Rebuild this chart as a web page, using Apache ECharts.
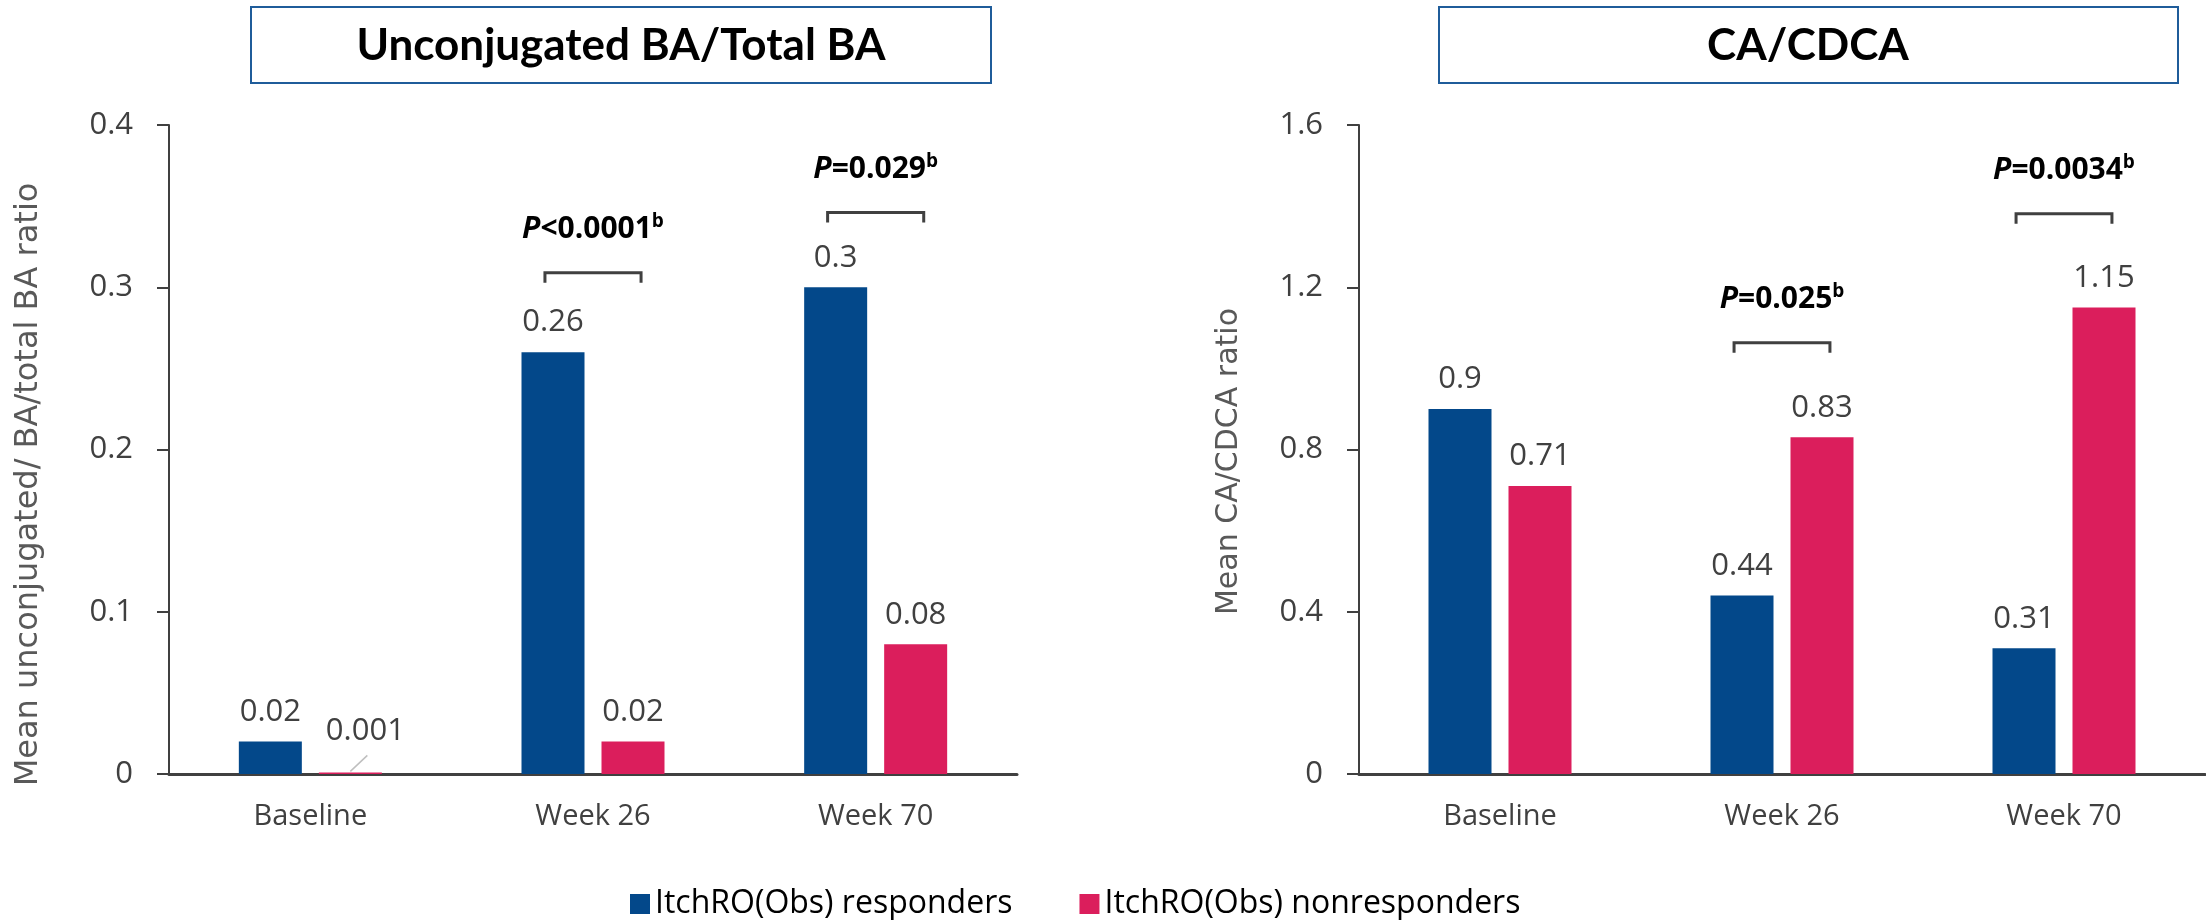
<!DOCTYPE html>
<html>
<head>
<meta charset="utf-8">
<script src="https://cdn.jsdelivr.net/npm/echarts@6/dist/echarts.min.js"></script>
<style>
html,body{margin:0;padding:0;background:#fff;}
#chart{width:2206px;height:920px;}
</style>
</head>
<body>
<div id="chart"></div>
<script>
// ---------- data ----------
const categories = ['Baseline', 'Week 26', 'Week 70'];
const seriesNames = ['ItchRO(Obs) responders', 'ItchRO(Obs) nonresponders'];

const unconjResponders    = [0.02, 0.26, 0.3];
const unconjNonresponders = [0.001, 0.02, 0.08];
const unconjAxis = { min: 0, max: 0.4, interval: 0.1 };
const unconjPCats   = [1, 2];
const unconjPLabels = ['<0.0001', '=0.029'];
const unconjPLevels = [0.309, 0.346];

const caResponders    = [0.9, 0.44, 0.31];
const caNonresponders = [0.71, 0.83, 1.15];
const caAxis = { min: 0, max: 1.6, interval: 0.4 };
const caPCats   = [1, 2];
const caPLabels = ['=0.025', '=0.0034'];
const caPLevels = [1.063, 1.381];

const titles = ['Unconjugated BA/Total BA', 'CA/CDCA'];
const yNames = ['Mean unconjugated/ BA/total BA ratio', 'Mean CA/CDCA ratio'];

// ---------- styles ----------
const BLUE = '#03488A';
const PINK = '#DB1E5C';
const AXIS = '#404040';
const FONT = '"Open Sans", "Noto Sans", sans-serif';
const TITLEFONT = 'Lato, "Open Sans", sans-serif';
const BAR_W = 63;
const BAR_GAP_PX = 17;

const chart = echarts.init(document.getElementById('chart'), null, { renderer: 'canvas' });

function yAxis(gi, ax, name, gap, shift, size) {
  return {
    type: 'value', gridIndex: gi, min: ax.min, max: ax.max, interval: ax.interval,
    name: name, nameLocation: 'middle', nameGap: gap, nameRotate: 90,
    nameTextStyle: { fontFamily: '"DejaVu Sans", Verdana, sans-serif', fontSize: size, color: '#595959',
                     padding: [0, shift, 0, 0] },
    axisLine: { show: true, lineStyle: { color: AXIS, width: 2 } },
    axisTick: { show: true, length: 12, lineStyle: { color: AXIS, width: 2 } },
    axisLabel: { margin: 36, fontFamily: FONT, fontSize: 31, color: AXIS },
    splitLine: { show: false }
  };
}
function xAxis(gi) {
  return {
    type: 'category', gridIndex: gi, data: categories,
    axisLine: { show: true, lineStyle: { color: AXIS, width: 3 } },
    axisTick: { show: false },
    axisLabel: { margin: 28, fontFamily: FONT, fontSize: 29, color: AXIS }
  };
}
function barSeries(name, gi, values, color, movedIndex) {
  return {
    type: 'bar', name: name, xAxisIndex: gi, yAxisIndex: gi,
    barWidth: BAR_W, barGap: (BAR_GAP_PX / BAR_W * 100) + '%',
    itemStyle: { color: color },
    data: values,
    label: { show: true, position: 'top', distance: 14, fontFamily: FONT, fontSize: 31, color: AXIS },
    labelLayout: function (p) {
      if (p.dataIndex === movedIndex) return { dx: 15, dy: -12 };
      return {};
    },
    z: 2
  };
}
// leader line for the displaced tiny-value label (second bar of the group)
function leaderSeries(gi, values, index) {
  return {
    type: 'custom', xAxisIndex: gi, yAxisIndex: gi, silent: true, z: 4,
    data: [[index, values[index]]],
    renderItem: function (params, api) {
      const c = api.coord([api.value(0), api.value(1)]);
      const x0 = c[0] + (BAR_W + BAR_GAP_PX) / 2;
      return { type: 'line', shape: { x1: x0, y1: c[1] - 1, x2: x0 + 17, y2: c[1] - 17 },
               style: { stroke: '#bfbfbf', lineWidth: 1.5 } };
    }
  };
}
function pSeries(gi, cats, labels, levels) {
  return {
    type: 'custom', xAxisIndex: gi, yAxisIndex: gi, silent: true, z: 5,
    data: cats.map((c, i) => [c, levels[i]]),
    renderItem: function (params, api) {
      const c = api.coord([api.value(0), api.value(1)]);
      const band = api.size([1, 0])[0];
      const half = band * 0.17;
      const leg = 10;
      const y = c[1];
      return {
        type: 'group',
        children: [
          { type: 'polyline',
            shape: { points: [[c[0] - half, y + leg], [c[0] - half, y], [c[0] + half, y], [c[0] + half, y + leg]] },
            style: { stroke: AXIS, lineWidth: 3, fill: null } },
          { type: 'text', x: c[0], y: y - 43,
            style: {
              text: '{i|P}{n|' + labels[params.dataIndex] + '}{s|b}',
              align: 'center', verticalAlign: 'middle',
              rich: {
                i: { fontFamily: FONT, fontSize: 30, fontWeight: 'bold', fontStyle: 'italic', fill: '#000', lineHeight: 36 },
                n: { fontFamily: FONT, fontSize: 30, fontWeight: 'bold', fill: '#000', lineHeight: 36 },
                s: { fontFamily: FONT, fontSize: 19, fontWeight: 'bold', fill: '#000', lineHeight: 36, verticalAlign: 'top' }
              }
            } }
        ]
      };
    }
  };
}

const option = {
  backgroundColor: '#fff',
  animation: false,
  grid: [
    { left: 169, top: 125, width: 848, height: 649 },
    { left: 1359, top: 125, width: 846, height: 649 }
  ],
  xAxis: [xAxis(0), xAxis(1)],
  yAxis: [yAxis(0, unconjAxis, yNames[0], 124, 70, 32), yAxis(1, caAxis, yNames[1], 115, 24, 30)],
  legend: {
    data: seriesNames, left: 625, top: 883, icon: 'rect',
    itemWidth: 20, itemHeight: 20, itemGap: 67,
    textStyle: { fontFamily: FONT, fontSize: 32, color: '#000' },
    selectedMode: false
  },
  series: [
    barSeries(seriesNames[0], 0, unconjResponders, BLUE, -1),
    barSeries(seriesNames[1], 0, unconjNonresponders, PINK, 0),
    barSeries(seriesNames[0], 1, caResponders, BLUE, -1),
    barSeries(seriesNames[1], 1, caNonresponders, PINK, -1),
    leaderSeries(0, unconjNonresponders, 0),
    pSeries(0, unconjPCats, unconjPLabels, unconjPLevels),
    pSeries(1, caPCats, caPLabels, caPLevels)
  ],
  graphic: [
    { type: 'rect', shape: { x: 251, y: 7, width: 740, height: 76 },
      style: { fill: '#fff', stroke: '#1F5C9A', lineWidth: 2 } },
    { type: 'text', x: 621, y: 46,
      style: { text: titles[0], font: 'bold 44px ' + TITLEFONT, fill: '#000', align: 'center', verticalAlign: 'middle' } },
    { type: 'rect', shape: { x: 1439, y: 7, width: 739, height: 76 },
      style: { fill: '#fff', stroke: '#1F5C9A', lineWidth: 2 } },
    { type: 'text', x: 1808, y: 46,
      style: { text: titles[1], font: 'bold 44px ' + TITLEFONT, fill: '#000', align: 'center', verticalAlign: 'middle' } }
  ]
};
chart.setOption(option);
</script>
</body>
</html>
